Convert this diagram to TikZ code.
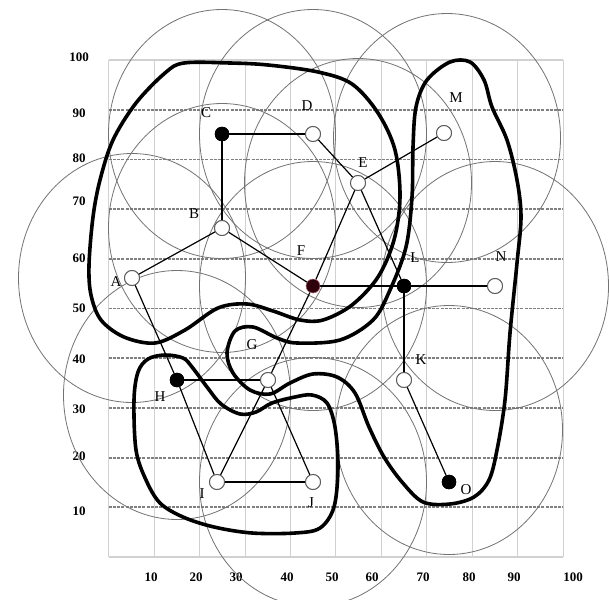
\documentclass[tikz,border=0pt]{standalone}
\usepackage{fontspec}
\setmainfont{Liberation Serif}
\begin{document}
\begin{tikzpicture}[x=1pt,y=-1pt]
\tikzset{
 gridv/.style={draw=black!18, line width=0.9pt},
 gridh/.style={draw=black!50, line width=1.8pt, dash pattern=on 3pt off 1.2pt},
 gridb/.style={draw=black!18, line width=1.2pt},
 rangec/.style={draw=black!55, line width=0.8pt},
 link/.style={draw=black, line width=1.2pt},
 hull/.style={draw=black, line width=3.6pt, line join=round},
 opennode/.style={circle, draw=black!65, fill=white, line width=0.9pt, minimum size=15pt, inner sep=0pt},
 headnode/.style={circle, draw=black, fill=black, minimum size=14pt, inner sep=0pt},
 fhead/.style={headnode, fill={rgb,255:red,45;green,0;blue,12}, draw={rgb,255:red,215;green,140;blue,150}},
 lbl/.style={font=\fontsize{15}{15}\selectfont, inner sep=0pt},
 axl/.style={font=\bfseries\fontsize{13}{13}\selectfont, inner sep=0pt}
}
\useasboundingbox (0,0) rectangle (609,599);
\fill[white] (0,0) rectangle (609,599);
% grid
\foreach \k in {0,...,10} {
  \draw[gridv] ({108.7+45.44*\k},60) -- ({108.7+45.44*\k},557);
}
\draw[gridb] (108.7,60) -- (563,60);
\draw[gridb] (108.7,557) -- (563,557);
\foreach \k in {1,...,9} {
  \draw[gridh] (108.7,{60+49.7*\k}) -- (563,{60+49.7*\k});
}
% axis labels
\foreach \v/\yy in {100/57,90/113,80/158,70/201,60/258,50/308,40/359,30/409,20/456,10/511} {
  \node[axl] (ya\v) at (79,\yy) {\v};
}
\foreach \v/\xx in {10/151,20/196,30/236,40/287,50/332,60/372,70/423,80/469,90/514,100/573} {
  \node[axl] (xa\v) at (\xx,577) {\v};
}
% node positions
\coordinate (pA) at (132,278);
\coordinate (pB) at (222,228);
\coordinate (pC) at (222,134);
\coordinate (pD) at (313,134);
\coordinate (pE) at (358,183);
\coordinate (pF) at (313,286);
\coordinate (pG) at (268,380);
\coordinate (pH) at (177,380);
\coordinate (pI) at (217,482);
\coordinate (pJ) at (313,482);
\coordinate (pK) at (404,380);
\coordinate (pL) at (404,286);
\coordinate (pM) at (444,133);
\coordinate (pN) at (495,286);
\coordinate (pO) at (449,482);
% range circles
\foreach \cx/\cy in {222/134,313/134,447/138,358/183,222/228,132/278,495/286,313/286,177/395,313/482,449/430} {
  \draw[rangec] (\cx,\cy) ellipse [x radius=113.5pt, y radius=124.5pt];
}
% nodes
\node[opennode] (A) at (pA) {};
\node[opennode] (B) at (pB) {};
\node[headnode] (C) at (pC) {};
\node[opennode] (D) at (pD) {};
\node[opennode] (E) at (pE) {};
\node[fhead] (F) at (pF) {};
\node[opennode] (G) at (pG) {};
\node[headnode] (H) at (pH) {};
\node[opennode] (I) at (pI) {};
\node[opennode] (J) at (pJ) {};
\node[opennode] (K) at (pK) {};
\node[headnode] (L) at (pL) {};
\node[opennode] (M) at (pM) {};
\node[opennode] (N) at (pN) {};
\node[headnode] (O) at (pO) {};
% links
\draw[link] (C) -- (D);
\draw[link] (C) -- (B);
\draw[link] (D) -- (E);
\draw[link] (E) -- (M);
\draw[link] (B) -- (A);
\draw[link] (B) -- (F);
\draw[link] (E) -- (F);
\draw[link] (E) -- (L);
\draw[link] (F) -- (L);
\draw[link] (L) -- (N);
\draw[link] (L) -- (K);
\draw[link] (K) -- (O);
\draw[link] (A) -- (H);
\draw[link] (H) -- (I);
\draw[link] (H) -- (G);
\draw[link] (F) -- (G);
\draw[link] (G) -- (I);
\draw[link] (G) -- (J);
\draw[link] (I) -- (J);
% cluster hulls
\draw[hull] plot[smooth cycle, tension=0.55] coordinates {
 (184,63) (230,63) (268,65) (318,72) (352,84) (378,113) (395,150) (400,197)
 (394,240) (378,277) (352,305) (323,320) (300,320) (273,311) (247,304)
 (218,308) (185,330) (155,343) (124,337) (101,320) (91,295) (89,265)
 (93,217) (100,180) (113,140) (136,103) (165,73)};
\draw[hull] plot[smooth cycle, tension=0.55] coordinates {
 (450,62) (470,62) (484,80) (492,107) (507,140) (517,180) (521,217)
 (517,263) (510,333) (505,400) (497,450) (489,480) (474,497) (450,504)
 (423,502) (402,482) (384,457) (369,427) (355,393) (337,377) (313,374)
 (290,383) (270,394) (250,390) (233,373) (227,353) (235,331) (253,327)
 (277,338) (297,343) (340,340) (373,320) (390,290) (406,247) (412,197)
 (413,147) (416,107) (427,80)};
\draw[hull] plot[smooth cycle, tension=0.55] coordinates {
 (165,355) (183,358) (192,367) (207,387) (221,404) (240,414) (256,412)
 (272,403) (295,397) (312,395) (327,403) (335,427) (338,467) (334,507)
 (320,528) (295,533) (252,533) (214,527) (183,517) (160,503) (146,480)
 (136,450) (134,400) (138,372) (148,359)};
% nodes again, above the hulls
\node[opennode] (A2) at (pA) {};
\node[opennode] (B2) at (pB) {};
\node[headnode] (C2) at (pC) {};
\node[opennode] (D2) at (pD) {};
\node[opennode] (E2) at (pE) {};
\node[fhead] (F2) at (pF) {};
\node[opennode] (G2) at (pG) {};
\node[headnode] (H2) at (pH) {};
\node[opennode] (I2) at (pI) {};
\node[opennode] (J2) at (pJ) {};
\node[opennode] (K2) at (pK) {};
\node[headnode] (L2) at (pL) {};
\node[opennode] (M2) at (pM) {};
\node[opennode] (N2) at (pN) {};
\node[headnode] (O2) at (pO) {};
% labels
\node[lbl] (lA) at (116,282) {A};
\node[lbl] (lB) at (194,214) {B};
\node[lbl] (lC) at (206,113) {C};
\node[lbl] (lD) at (307,106) {D};
\node[lbl] (lE) at (363,163) {E};
\node[lbl] (lF) at (301,251) {F};
\node[lbl] (lG) at (252,345) {G};
\node[lbl] (lH) at (160,397) {H};
\node[lbl] (lI) at (202,494) {I};
\node[lbl] (lJ) at (311,503) {J};
\node[lbl] (lK) at (421,360) {K};
\node[lbl] (lL) at (415,258) {L};
\node[lbl] (lM) at (456,98) {M};
\node[lbl] (lN) at (501,257) {N};
\node[lbl] (lO) at (466,490) {O};
\end{tikzpicture}
\end{document}
